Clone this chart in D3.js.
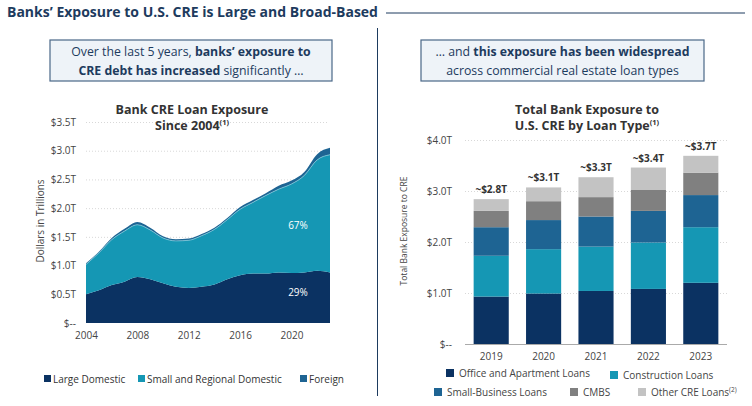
<!DOCTYPE html>
<html>
<head>
<meta charset="utf-8">
<script src="https://cdn.jsdelivr.net/npm/d3@7"></script>
<style>
  html, body { margin: 0; padding: 0; background: #fff; }
  svg { display: block; font-family: "Open Sans", "Lato", sans-serif; }
</style>
</head>
<body>
<svg id="chart" width="752" height="406"></svg>
<script>
// ---------- Left chart data (trillions USD) ----------
const areaYears = [2004, 2005, 2006, 2007, 2008, 2009, 2010, 2011, 2012, 2013, 2014, 2015, 2016, 2017, 2018, 2019, 2020, 2021, 2022, 2023];
const largeDomestic = [0.50, 0.57, 0.66, 0.72, 0.80, 0.76, 0.69, 0.63, 0.61, 0.63, 0.67, 0.76, 0.83, 0.86, 0.86, 0.88, 0.87, 0.88, 0.91, 0.88];
const smallRegional = [0.52, 0.65, 0.79, 0.88, 0.91, 0.86, 0.79, 0.80, 0.83, 0.89, 0.96, 1.04, 1.15, 1.24, 1.36, 1.45, 1.55, 1.69, 1.93, 2.05];
const foreign = [0.02, 0.02, 0.03, 0.04, 0.05, 0.04, 0.03, 0.03, 0.03, 0.03, 0.03, 0.03, 0.04, 0.04, 0.04, 0.06, 0.06, 0.06, 0.10, 0.12];
const areaSeries = ["Large Domestic", "Small and Regional Domestic", "Foreign"];
const areaYTicks = [0, 0.5, 1.0, 1.5, 2.0, 2.5, 3.0, 3.5];
const areaYTickLabels = ["$--", "$0.5T", "$1.0T", "$1.5T", "$2.0T", "$2.5T", "$3.0T", "$3.5T"];
const areaXTicks = [2004, 2008, 2012, 2016, 2020];
const shareLabels = ["29%", "67%"];

// ---------- Right chart data (trillions USD) ----------
const barYears = ["2019", "2020", "2021", "2022", "2023"];
const officeApartment = [0.93, 0.99, 1.04, 1.08, 1.20];
const construction = [0.80, 0.87, 0.87, 0.91, 1.09];
const smallBusiness = [0.56, 0.57, 0.59, 0.62, 0.63];
const cmbs = [0.32, 0.37, 0.38, 0.41, 0.44];
const otherCre = [0.23, 0.27, 0.39, 0.44, 0.33];
const barTotals = ["~$2.8T", "~$3.1T", "~$3.3T", "~$3.4T", "~$3.7T"];
const barSeries = ["Office and Apartment Loans", "Construction Loans", "Small-Business Loans", "CMBS", "Other CRE Loans"];
const barYTicks = [0, 1, 2, 3, 4];
const barYTickLabels = ["$--", "$1.0T", "$2.0T", "$3.0T", "$4.0T"];

// ---------- Styles ----------
const navy = "#1d3b5e";
const areaColors = ["#0b3262", "#1597b4", "#1e6493"];
const barColors = ["#0b3262", "#1597b4", "#1e6493", "#808080", "#c3c3c3"];
const textGray = "#444";

const svg = d3.select("#chart");

// Header
svg.append("text").attr("x", 7).attr("y", 17)
  .attr("font-size", 14).attr("font-weight", 700).attr("fill", navy)
  .text("Banks\u2019 Exposure to U.S. CRE is Large and Broad-Based");
svg.append("line").attr("x1", 386).attr("x2", 745).attr("y1", 13).attr("y2", 13)
  .attr("stroke", navy).attr("stroke-width", 1);
svg.append("line").attr("x1", 377.5).attr("x2", 377.5).attr("y1", 28).attr("y2", 396)
  .attr("stroke", navy).attr("stroke-width", 1);

// Callout boxes
function callout(x, w, lines) {
  const g = svg.append("g");
  g.append("rect").attr("x", x).attr("y", 40).attr("width", w).attr("height", 41)
    .attr("fill", "#eef3f8").attr("stroke", "#4a6888").attr("stroke-width", 1.2);
  lines.forEach((parts, i) => {
    const t = g.append("text").attr("x", x + w / 2).attr("y", 56 + i * 19)
      .attr("text-anchor", "middle").attr("font-size", 12.3).attr("fill", navy);
    parts.forEach(p => t.append("tspan").attr("font-weight", p[1] ? 700 : 400).text(p[0]));
  });
}
callout(50, 282, [
  [["Over the last 5 years, ", false], ["banks\u2019 exposure to", true]],
  [["CRE debt has increased", true], [" significantly \u2026", false]]
]);
callout(421, 283, [
  [["\u2026 and ", false], ["this exposure has been widespread", true]],
  [["across commercial real estate loan types", false]]
]);

// ---------- Left area chart ----------
const L = { left: 86, right: 330, top: 122, bottom: 323 };
const xA = d3.scaleLinear().domain([2004, 2023]).range([L.left, L.right]);
const yA = d3.scaleLinear().domain([0, 3.5]).range([L.bottom, L.top]);

const areaRows = areaYears.map((yr, i) => ({
  year: yr, "Large Domestic": largeDomestic[i],
  "Small and Regional Domestic": smallRegional[i], "Foreign": foreign[i]
}));
const stackedA = d3.stack().keys(areaSeries)(areaRows);

// gridlines
svg.append("g").selectAll("line").data(areaYTicks.slice(1)).join("line")
  .attr("x1", L.left).attr("x2", L.right - 2)
  .attr("y1", d => yA(d) + 0.5).attr("y2", d => yA(d) + 0.5)
  .attr("stroke", "#d8d8d8").attr("stroke-dasharray", "1,2");

const areaGen = d3.area().x(d => xA(d.data.year)).y0(d => yA(d[0])).y1(d => yA(d[1]))
  .curve(d3.curveMonotoneX);
svg.append("g").selectAll("path").data(stackedA).join("path")
  .attr("d", areaGen).attr("fill", (d, i) => areaColors[i]);
svg.append("path").datum(stackedA[1])
  .attr("d", d3.line().x(d => xA(d.data.year)).y(d => yA(d[1])).curve(d3.curveMonotoneX))
  .attr("fill", "none").attr("stroke", "#7fc9db").attr("stroke-width", 0.8);

const yAxisA = d3.axisLeft(yA).tickValues(areaYTicks)
  .tickFormat((d, i) => areaYTickLabels[i]).tickSize(0).tickPadding(10);
const gyA = svg.append("g").attr("transform", `translate(${L.left},0)`).call(yAxisA);
gyA.select(".domain").remove();
gyA.selectAll("text").attr("font-size", 10).attr("fill", textGray).attr("font-family", "Open Sans, sans-serif");

const xAxisA = d3.axisBottom(xA).tickValues(areaXTicks).tickFormat(d3.format("d")).tickSize(0).tickPadding(9);
const gxA = svg.append("g").attr("transform", `translate(0,${L.bottom})`).call(xAxisA);
gxA.select(".domain").remove();
gxA.selectAll("text").attr("font-size", 10).attr("fill", textGray).attr("font-family", "Open Sans, sans-serif");

svg.append("text").attr("transform", `translate(44,221) rotate(-90)`)
  .attr("text-anchor", "middle").attr("font-size", 10).attr("fill", textGray)
  .text("Dollars in Trillions");

// left title
svg.append("text").attr("x", 192).attr("y", 114).attr("text-anchor", "middle")
  .attr("font-size", 12.5).attr("font-weight", 700).attr("fill", "#333")
  .text("Bank CRE Loan Exposure");
const tA2 = svg.append("text").attr("x", 192).attr("y", 130).attr("text-anchor", "middle")
  .attr("font-size", 12.5).attr("font-weight", 700).attr("fill", "#333");
tA2.append("tspan").text("Since 2004");
tA2.append("tspan").attr("font-size", 7.5).attr("dy", -5).text("(1)");

// share labels (latest large-domestic and small/regional shares)
const shareY = [296, 229];
shareLabels.forEach((s, i) => {
  svg.append("text").attr("x", 298).attr("y", shareY[i])
    .attr("text-anchor", "middle").attr("font-size", 10).attr("fill", "#fff").text(s);
});

// left legend
const legAPos = [44, 138, 300];
areaSeries.forEach((s, i) => {
  svg.append("rect").attr("x", legAPos[i]).attr("y", 375).attr("width", 7).attr("height", 7).attr("fill", areaColors[i]);
  svg.append("text").attr("x", legAPos[i] + 9).attr("y", 382.5).attr("font-size", 10).attr("fill", "#333").text(s);
});

// ---------- Right bar chart ----------
const R = { left: 465, right: 727, top: 140, bottom: 344 };
const xB = d3.scaleBand().domain(barYears).range([R.left, R.right]).paddingInner(0.33).paddingOuter(0.165);
const yB = d3.scaleLinear().domain([0, 4]).range([R.bottom, R.top]);

svg.append("g").selectAll("line").data(barYTicks.slice(1)).join("line")
  .attr("x1", R.left).attr("x2", R.right)
  .attr("y1", d => yB(d) + 0.5).attr("y2", d => yB(d) + 0.5)
  .attr("stroke", "#d8d8d8").attr("stroke-dasharray", "1,2");

const barRows = barYears.map((yr, i) => ({
  year: yr, "Office and Apartment Loans": officeApartment[i], "Construction Loans": construction[i],
  "Small-Business Loans": smallBusiness[i], "CMBS": cmbs[i], "Other CRE Loans": otherCre[i]
}));
const stackedB = d3.stack().keys(barSeries)(barRows);
svg.append("g").selectAll("g").data(stackedB).join("g")
  .attr("fill", (d, i) => barColors[i])
  .selectAll("rect").data(d => d).join("rect")
  .attr("x", d => xB(d.data.year)).attr("width", xB.bandwidth())
  .attr("y", d => yB(d[1])).attr("height", d => yB(d[0]) - yB(d[1]));

svg.append("line").attr("x1", R.left).attr("x2", R.right)
  .attr("y1", R.bottom + 0.5).attr("y2", R.bottom + 0.5).attr("stroke", "#aaa");

const topSeries = stackedB[stackedB.length - 1];
svg.append("g").selectAll("text").data(topSeries).join("text")
  .attr("x", d => xB(d.data.year) + xB.bandwidth() / 2).attr("y", d => yB(d[1]) - 6)
  .attr("text-anchor", "middle").attr("font-size", 10).attr("font-weight", 700).attr("fill", "#333")
  .text((d, i) => barTotals[i]);

const yAxisB = d3.axisLeft(yB).tickValues(barYTicks).tickFormat((d, i) => barYTickLabels[i]).tickSize(0).tickPadding(13);
const gyB = svg.append("g").attr("transform", `translate(${R.left},0)`).call(yAxisB);
gyB.select(".domain").remove();
gyB.selectAll("text").attr("font-size", 10).attr("fill", textGray).attr("font-family", "Open Sans, sans-serif");

const xAxisB = d3.axisBottom(xB).tickSize(0).tickPadding(9);
const gxB = svg.append("g").attr("transform", `translate(0,${R.bottom})`).call(xAxisB);
gxB.select(".domain").remove();
gxB.selectAll("text").attr("font-size", 10).attr("fill", textGray).attr("font-family", "Open Sans, sans-serif");

svg.append("text").attr("transform", `translate(407,231) rotate(-90)`)
  .attr("text-anchor", "middle").attr("font-size", 8.5).attr("fill", textGray)
  .text("Total Bank Exposure to CRE");

svg.append("text").attr("x", 587).attr("y", 114).attr("text-anchor", "middle")
  .attr("font-size", 12.5).attr("font-weight", 700).attr("fill", "#333")
  .text("Total Bank Exposure to");
const tB2 = svg.append("text").attr("x", 587).attr("y", 130).attr("text-anchor", "middle")
  .attr("font-size", 12.5).attr("font-weight", 700).attr("fill", "#333");
tB2.append("tspan").text("U.S. CRE by Loan Type");
tB2.append("tspan").attr("font-size", 7.5).attr("dy", -5).text("(1)");

// right legend
const legBPos = [[446, 373], [610, 375], [434, 392], [570, 392], [638, 392]];
barSeries.forEach((s, i) => {
  const [lx, ly] = legBPos[i];
  svg.append("rect").attr("x", lx).attr("y", ly - 4).attr("width", 8).attr("height", 8).attr("fill", barColors[i]);
  const t = svg.append("text").attr("x", lx + 13).attr("y", ly + 3.5).attr("font-size", 10).attr("fill", textGray).text(s);
  if (i === 4) t.append("tspan").attr("font-size", 6.5).attr("dy", -4).text("(2)");
});
</script>
</body>
</html>
